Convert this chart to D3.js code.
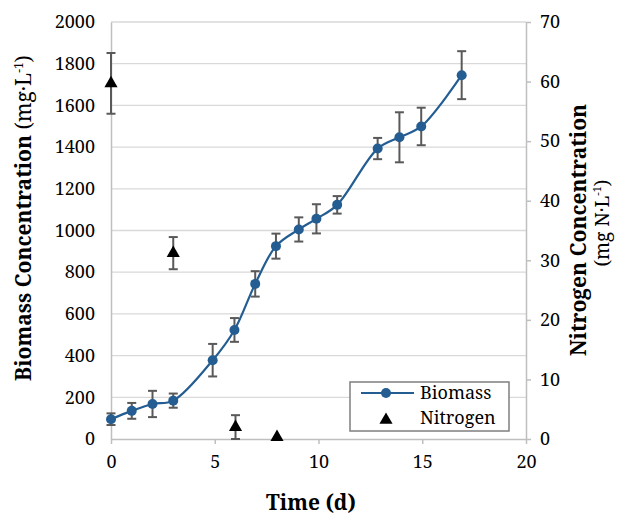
<!DOCTYPE html>
<html>
<head>
<meta charset="utf-8">
<script src="https://cdn.jsdelivr.net/npm/d3@7"></script>
<style>
  body { margin: 0; background: #fff; }
</style>
</head>
<body>
<svg id="mainsvg" width="617" height="516"></svg>
<script>
// biomass series (day, mg/L, error)
const bioDays = [0, 1, 2, 3, 4.9, 5.95, 6.95, 7.95, 9.05, 9.9, 10.9, 12.85, 13.9, 14.95, 16.9];
const bioValues = [95, 135, 168, 184, 378, 523, 744, 925, 1005, 1056, 1123, 1393, 1447, 1499, 1745];
const bioErrors = [28, 38, 63, 34, 78, 57, 61, 60, 58, 70, 42, 51, 120, 90, 115];

// nitrogen series (day, mg N/L, error)
const nDays = [0, 3, 6, 8];
const nValues = [59.7, 31.2, 2.0, 0.3];
const nErrors = [5.1, 2.7, 2.0, 0];

const xTicks = [0, 5, 10, 15, 20];
const yLeftTicks = [0, 200, 400, 600, 800, 1000, 1200, 1400, 1600, 1800, 2000];
const yRightTicks = [0, 10, 20, 30, 40, 50, 60, 70];

const FONT = '"Noto Serif", "Liberation Serif", serif';

const svg = d3.select('#mainsvg').style('font-family', FONT);
const margin = {top: 22, right: 91, bottom: 77, left: 111};
const width = +svg.attr('width');
const height = +svg.attr('height');
const innerWidth = width - margin.left - margin.right;
const innerHeight = height - margin.top - margin.bottom;

const blue = '#245d92';
const errColor = '#595959';
const axisColor = '#bfbfbf';
const gridColor = '#d9d9d9';

const g = svg.append('g').attr('transform', `translate(${margin.left}, ${margin.top})`);

const xScale = d3.scaleLinear().domain([0, 20]).range([0, innerWidth]);
const yLeft = d3.scaleLinear().domain([0, 2000]).range([innerHeight, 0]);
const yRight = d3.scaleLinear().domain([0, 70]).range([innerHeight, 0]);

// gridlines
g.append('g').selectAll('line')
  .data(yLeftTicks.filter(d => d > 0))
  .join('line')
  .attr('x1', 0).attr('x2', innerWidth)
  .attr('y1', d => yLeft(d)).attr('y2', d => yLeft(d))
  .attr('stroke', gridColor).attr('stroke-width', 1.3);

// x axis
const xAxis = g.append('g')
  .attr('transform', `translate(0, ${innerHeight})`)
  .call(d3.axisBottom(xScale).tickValues(xTicks).tickFormat(d3.format('d')).tickSize(5).tickSizeOuter(0))
  .style('font-family', FONT);
xAxis.select('.domain').attr('stroke', axisColor).attr('stroke-width', 1.5);
xAxis.selectAll('.tick line').attr('stroke', axisColor).attr('stroke-width', 1.5);
xAxis.selectAll('.tick text').style('font-size', '18px').attr('fill', '#000')
  .attr('y', 29).attr('dy', 0);

// left axis
const yAxisL = g.append('g')
  .call(d3.axisLeft(yLeft).tickValues(yLeftTicks).tickFormat(d3.format('d')).tickSize(0).tickPadding(16))
  .style('font-family', FONT);
yAxisL.select('.domain').attr('stroke', axisColor).attr('stroke-width', 1.5);
yAxisL.selectAll('.tick text').style('font-size', '18px').attr('fill', '#000');

// right axis
const yAxisR = g.append('g')
  .attr('transform', `translate(${innerWidth}, 0)`)
  .call(d3.axisRight(yRight).tickValues(yRightTicks).tickFormat(d3.format('d')).tickSize(5).tickSizeOuter(0).tickPadding(9))
  .style('font-family', FONT);
yAxisR.select('.domain').attr('stroke', axisColor).attr('stroke-width', 1.5);
yAxisR.selectAll('.tick line').attr('stroke', axisColor).attr('stroke-width', 1.5);
yAxisR.selectAll('.tick text').style('font-size', '18px').attr('fill', '#000');

// error bars
function drawErrors(days, vals, errs, yScale) {
  const eg = g.append('g');
  days.forEach((d, i) => {
    if (!errs[i]) return;
    const x = xScale(d);
    const y1 = yScale(Math.max(vals[i] - errs[i], yScale.domain()[0]));
    const y2 = yScale(vals[i] + errs[i]);
    eg.append('line').attr('x1', x).attr('x2', x).attr('y1', y1).attr('y2', y2)
      .attr('stroke', errColor).attr('stroke-width', 2);
    [y1, y2].forEach(yy => {
      eg.append('line').attr('x1', x - 4.5).attr('x2', x + 4.5).attr('y1', yy).attr('y2', yy)
        .attr('stroke', errColor).attr('stroke-width', 2);
    });
  });
}
drawErrors(bioDays, bioValues, bioErrors, yLeft);
drawErrors(nDays, nValues, nErrors, yRight);

// biomass line
const bioData = bioDays.map((d, i) => ({day: d, value: bioValues[i]}));
const line = d3.line()
  .x(d => xScale(d.day))
  .y(d => yLeft(d.value))
  .curve(d3.curveCatmullRom.alpha(0.5));
g.append('path').datum(bioData)
  .attr('d', line)
  .attr('fill', 'none')
  .attr('stroke', blue)
  .attr('stroke-width', 2.2);

g.append('g').selectAll('circle')
  .data(bioData)
  .join('circle')
  .attr('cx', d => xScale(d.day))
  .attr('cy', d => yLeft(d.value))
  .attr('r', 5)
  .attr('fill', blue);

// nitrogen triangles
const tri = d3.symbol().type(d3.symbolTriangle).size(75);
const nData = nDays.map((d, i) => ({day: d, value: nValues[i]}));
g.append('g').selectAll('path')
  .data(nData)
  .join('path')
  .attr('d', tri)
  .attr('transform', d => `translate(${xScale(d.day)}, ${yRight(d.value)})`)
  .attr('fill', '#000');

// axis titles
svg.append('text')
  .attr('x', 311)
  .attr('y', 510)
  .attr('text-anchor', 'middle')
  .style('font-size', '21px')
  .style('font-weight', 'bold')
  .text('Time (d)');

const leftTitle = svg.append('text')
  .attr('transform', 'translate(31, 218) rotate(-90)')
  .attr('text-anchor', 'middle')
  .style('font-size', '21px');
leftTitle.append('tspan').style('font-weight', 'bold').text('Biomass Concentration ');
leftTitle.append('tspan').text('(mg·L');
leftTitle.append('tspan').style('font-size', '12px').attr('dy', -8).text('-1');
leftTitle.append('tspan').attr('dy', 8).text(')');

svg.append('text')
  .attr('transform', 'translate(586, 230) rotate(-90)')
  .attr('text-anchor', 'middle')
  .style('font-size', '21px')
  .style('font-weight', 'bold')
  .text('Nitrogen Concentration');

const rightSub = svg.append('text')
  .attr('transform', 'translate(609, 223) rotate(-90)')
  .attr('text-anchor', 'middle')
  .style('font-size', '19px');
rightSub.append('tspan').text('(mg N·L');
rightSub.append('tspan').style('font-size', '11px').attr('dy', -8).text('-1');
rightSub.append('tspan').attr('dy', 8).text(')');

// legend
const legend = svg.append('g').attr('transform', 'translate(350, 382)');
legend.append('rect')
  .attr('width', 159).attr('height', 49)
  .attr('fill', '#fff')
  .attr('stroke', '#7f7f7f').attr('stroke-width', 1.5);
legend.append('line')
  .attr('x1', 11).attr('x2', 64).attr('y1', 11).attr('y2', 11)
  .attr('stroke', blue).attr('stroke-width', 2.2);
legend.append('circle').attr('cx', 36).attr('cy', 11).attr('r', 5).attr('fill', blue);
legend.append('path').attr('d', tri).attr('transform', 'translate(36, 38)').attr('fill', '#000');
legend.append('text').attr('x', 70).attr('y', 17).style('font-size', '18px').text('Biomass');
legend.append('text').attr('x', 70).attr('y', 42).style('font-size', '18px').text('Nitrogen');
</script>
</body>
</html>
